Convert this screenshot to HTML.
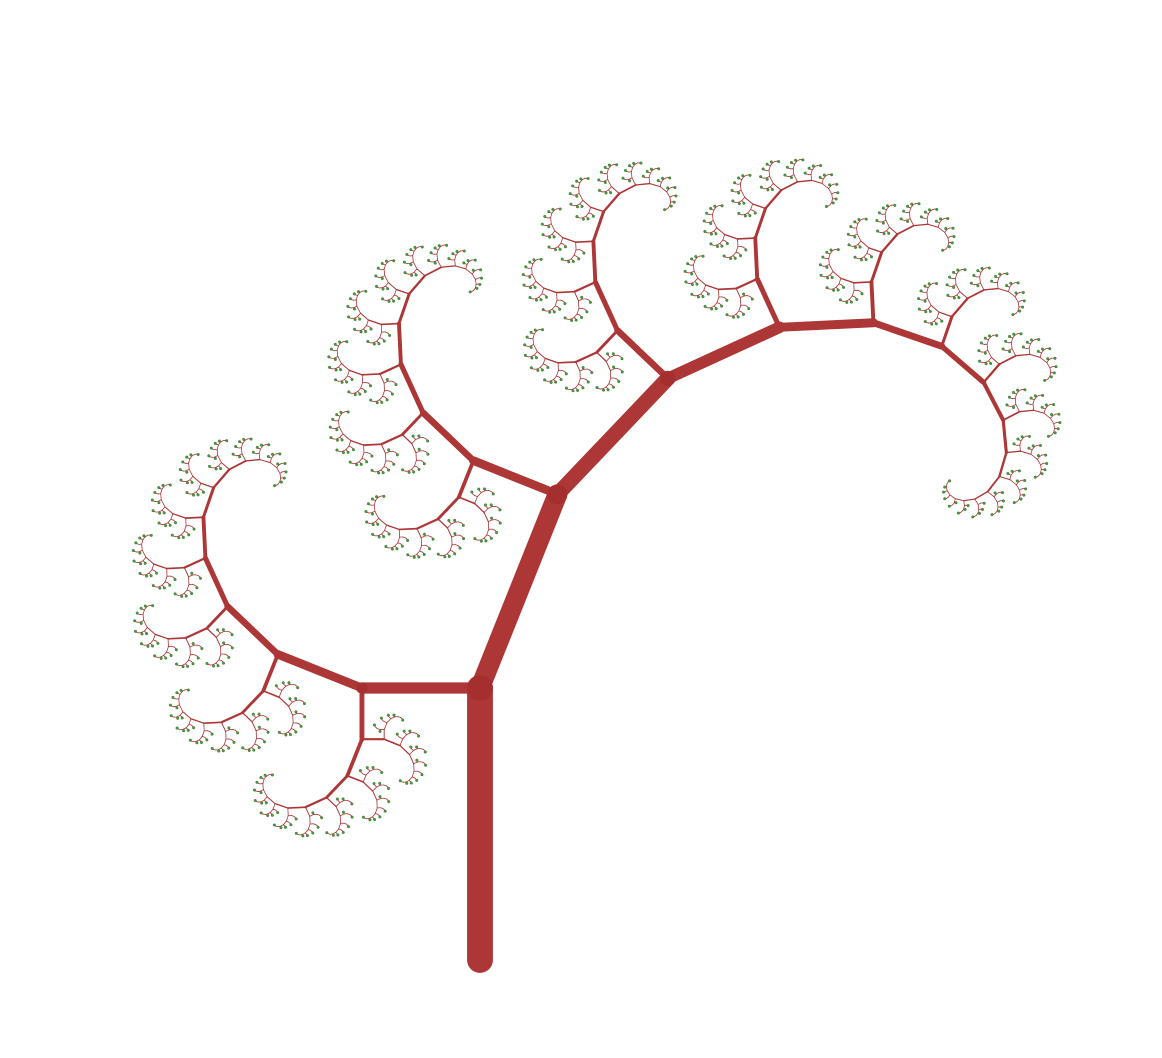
<!DOCTYPE html>
<html>
<head>
<meta charset="utf-8">
<style>
  html, body { margin: 0; padding: 0; background: #ffffff; }
  svg { display: block; }
</style>
</head>
<body>
<svg id="chart" width="1162" height="1058" viewBox="0 0 1162 1058" xmlns="http://www.w3.org/2000/svg">
  <g id="branches"></g>
  <g id="joints"></g>
  <g id="leaves"></g>
</svg>
<script>
// Tree parameters
const trunkBase = [480, 960];
const trunkLength = [272];
const childScales = [0.767, 0.434];
const childAngles = [21.8, -90];
const widthRatio = [0.095];
const minLength = [1.5];

const NS = 'http://www.w3.org/2000/svg';
const gB = document.getElementById('branches');
const gJ = document.getElementById('joints');
const gL = document.getElementById('leaves');

function seg(x, y, L, heading, depth) {
  const r = heading * Math.PI / 180;
  const x2 = x + L * Math.sin(r);
  const y2 = y - L * Math.cos(r);
  const line = document.createElementNS(NS, 'line');
  
  
  line.setAttribute('x1', x.toFixed(2));
  line.setAttribute('y1', y.toFixed(2));
  line.setAttribute('x2', x2.toFixed(2));
  line.setAttribute('y2', y2.toFixed(2));
  const w = Math.max(0.8, L * widthRatio[0]);
  line.setAttribute('stroke', '#ad3636');
  line.setAttribute('stroke-width', w.toFixed(2));
  line.setAttribute('stroke-linecap', 'round');
  gB.appendChild(line);
  if (depth < 3 && L > 100) {
    const c = document.createElementNS(NS, 'circle');
    
    
    c.setAttribute('cx', x2.toFixed(2));
    c.setAttribute('cy', y2.toFixed(2));
    c.setAttribute('r', (w * 0.5).toFixed(2));
    c.setAttribute('fill', '#a52f2f');
    gJ.appendChild(c);
  }
  let spawned = false;
  for (let i = 0; i < childScales.length; i++) {
    const cl = L * childScales[i];
    if (cl >= minLength[0]) {
      spawned = true;
      seg(x2, y2, cl, heading + childAngles[i], depth + 1);
    }
  }
  if (!spawned) {
    const leaf = document.createElementNS(NS, 'circle');
    
    
    leaf.setAttribute('cx', x2.toFixed(2));
    leaf.setAttribute('cy', y2.toFixed(2));
    leaf.setAttribute('r', '1.3');
    leaf.setAttribute('fill', '#4a9a3a');
    leaf.setAttribute('stroke', '#2f6f2a');
    leaf.setAttribute('stroke-width', '0.4');
    gL.appendChild(leaf);
  }
}
seg(trunkBase[0], trunkBase[1], trunkLength[0], 0, 0);
</script>
</body>
</html>
